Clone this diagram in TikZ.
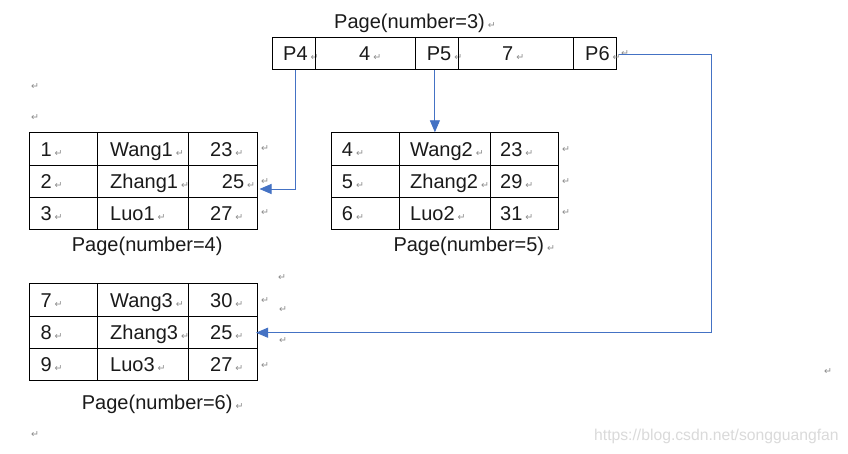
\documentclass[tikz,border=0pt]{standalone}
\usepackage{fontspec}
\setmainfont{Liberation Sans}
\newfontfamily\markfont{DejaVu Sans}
\usetikzlibrary{arrows.meta}
\definecolor{arrowblue}{HTML}{4472C4}
\definecolor{markgray}{HTML}{8C8C8C}
\definecolor{wmgray}{HTML}{DADADA}
\definecolor{txt}{HTML}{1A1A1A}
\newcommand\pmark{\kern3pt{\markfont\fontsize{9.5}{9.5}\selectfont\textcolor{markgray}{↵}}}
\newcommand\tcell[7]{%
  \node[cellbox, minimum width=#4pt, minimum height=#5pt] (#1) at (#2,#3) {};
  \node[celltext] (#1t) at ([xshift=#6pt, yshift=-7.3pt]#1.west) {#7\pmark};
}
\begin{document}
\begin{tikzpicture}[x=1pt,y=-1pt,
  cellbox/.style={draw=black, line width=0.8pt, inner sep=0pt, anchor=north west},
  celltext/.style={anchor=base west, inner sep=0pt, text=txt, font=\fontsize{20}{24}\selectfont},
  captext/.style={anchor=base west, inner sep=0pt, text=txt, font=\fontsize{20}{24}\selectfont},
  pmk/.style={inner sep=0pt, text=markgray, font=\markfont\fontsize{9.5}{9.5}\selectfont},
  link/.style={draw=arrowblue, line width=0.9pt},
  linkarrow/.style={link, -{Triangle[length=12pt,width=10pt]}, arrowblue}]
\fill[white] (0,0) rectangle (848,454);
\useasboundingbox (0,0) rectangle (848,454);

% ---- top page (number=3)
\node[captext] (cap3) at (334,29) {Page(number=3)\pmark};
\tcell{tP4}{271.7}{37.3}{43.6}{32}{11.3}{P4}
\tcell{tK4}{315.3}{37.3}{99.4}{32}{43.7}{4}
\tcell{tP5}{414.7}{37.3}{43.6}{32}{12}{P5}
\tcell{tK7}{458.3}{37.3}{114.4}{32}{43.7}{7}
\tcell{tP6}{572.7}{37.3}{43.6}{32}{12.3}{P6}
\node[pmk] (mP6) at (625,54) {↵};

% ---- page 4
\tcell{a11}{29.3}{132.3}{68}{32.3}{11}{1}
\tcell{a12}{97.3}{132.3}{91}{32.3}{12.7}{Wang1}
\tcell{a13}{188.3}{132.3}{68.4}{32.3}{21.7}{23}
\tcell{a21}{29.3}{164.6}{68}{32.3}{11}{2}
\tcell{a22}{97.3}{164.6}{91}{32.3}{12.7}{Zhang1}
\tcell{a23}{188.3}{164.6}{68.4}{32.3}{33.4}{25}
\tcell{a31}{29.3}{196.9}{68}{32.3}{11}{3}
\tcell{a32}{97.3}{196.9}{91}{32.3}{12.7}{Luo1}
\tcell{a33}{188.3}{196.9}{68.4}{32.3}{21.7}{27}
\node[captext] (cap4) at (71.7,251.7) {Page(number=4)};

% ---- page 5
\tcell{b11}{330.7}{132.3}{68}{32.3}{11}{4}
\tcell{b12}{398.7}{132.3}{91}{32.3}{11.3}{Wang2}
\tcell{b13}{489.7}{132.3}{68}{32.3}{10.3}{23}
\tcell{b21}{330.7}{164.6}{68}{32.3}{11}{5}
\tcell{b22}{398.7}{164.6}{91}{32.3}{11.3}{Zhang2}
\tcell{b23}{489.7}{164.6}{68}{32.3}{10.3}{29}
\tcell{b31}{330.7}{196.9}{68}{32.3}{11}{6}
\tcell{b32}{398.7}{196.9}{91}{32.3}{11.3}{Luo2}
\tcell{b33}{489.7}{196.9}{68}{32.3}{10.3}{31}
\node[captext] (cap5) at (393.3,251.7) {Page(number=5)\pmark};

% ---- page 6
\tcell{c11}{29.3}{283.3}{68}{32.2}{11}{7}
\tcell{c12}{97.3}{283.3}{91}{32.2}{12.7}{Wang3}
\tcell{c13}{188.3}{283.3}{68.4}{32.2}{21.7}{30}
\tcell{c21}{29.3}{315.5}{68}{32.2}{11}{8}
\tcell{c22}{97.3}{315.5}{91}{32.2}{12.7}{Zhang3}
\tcell{c23}{188.3}{315.5}{68.4}{32.2}{21.7}{25}
\tcell{c31}{29.3}{347.7}{68}{32.2}{11}{9}
\tcell{c32}{97.3}{347.7}{91}{32.2}{12.7}{Luo3}
\tcell{c33}{188.3}{347.7}{68.4}{32.2}{21.7}{27}
\node[captext] (cap6) at (81.7,409.3) {Page(number=6)\pmark};

% ---- stray paragraph marks
\node[pmk] (m1) at (35,87) {↵};
\node[pmk] (m2) at (35,118) {↵};
\node[pmk] (m3) at (265,149) {↵};
\node[pmk] (m4) at (265,182) {↵};
\node[pmk] (m5) at (265,213) {↵};
\node[pmk] (m6) at (566,150) {↵};
\node[pmk] (m7) at (566,182) {↵};
\node[pmk] (m8) at (566,213) {↵};
\node[pmk] (m9) at (282,278) {↵};
\node[pmk] (m10) at (265,301) {↵};
\node[pmk] (m11) at (283,310) {↵};
\node[pmk] (m12) at (283,341) {↵};
\node[pmk] (m13) at (265,366) {↵};
\node[pmk] (m14) at (828,372) {↵};
\node[pmk] (m15) at (35,435) {↵};

% ---- watermark
\node[anchor=base west, inner sep=0pt, text=wmgray, font=\fontsize{15.7}{16}\selectfont] (wm) at (594,440.5) {https://blog.csdn.net/songguangfan};

% ---- connectors
\coordinate (e1) at (259.5,189);
\coordinate (k3) at (711.7,332.7);
\coordinate (e3) at (256,332.7);
\draw[linkarrow] ([xshift=1.5pt]tP4.south) |- (e1);
\draw[linkarrow] ([xshift=-2pt]tP5.south) -- ([xshift=-2pt]tP5.south |- b12.north);
\draw[linkarrow] ([xshift=2pt,yshift=-0.7pt]tP6.east) -| (k3) -- (e3);
\end{tikzpicture}
\end{document}
